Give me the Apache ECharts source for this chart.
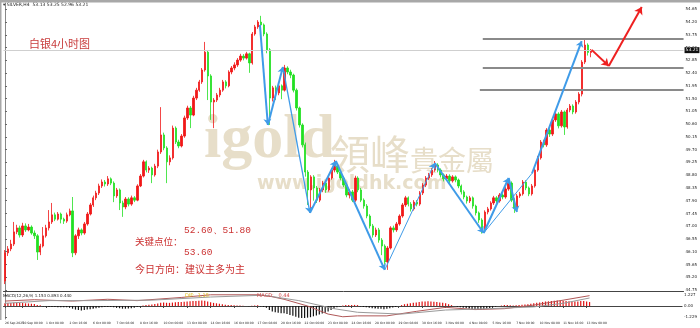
<!DOCTYPE html>
<html><head><meta charset="utf-8">
<script src="https://cdn.jsdelivr.net/npm/echarts@6/dist/echarts.min.js"></script>
<style>html,body{margin:0;padding:0;background:#fff}#c{width:700px;height:328px}</style>
</head><body><div id="c"></div>
<script>
// ---------- data ----------
const opens = [
45.07,46.06,46.20,46.37,46.80,46.94,46.69,47.01,46.87,46.97,
46.76,46.66,46.09,46.30,46.66,46.94,47.15,47.40,47.25,47.43,
47.25,47.18,47.40,47.54,46.06,46.66,46.87,46.76,47.08,47.43,
47.75,48.00,48.17,48.42,48.56,48.49,48.67,48.52,48.07,48.28,
47.82,47.68,47.96,47.78,48.00,47.92,48.42,48.77,49.27,48.98,
49.05,48.81,49.12,49.62,50.22,49.76,49.27,49.41,50.46,49.97,
49.83,50.18,50.82,51.17,50.92,51.52,51.80,52.09,52.51,53.14,
52.30,51.38,51.45,51.63,51.80,52.09,51.95,52.44,52.58,52.69,
52.86,53.00,52.93,53.08,52.76,53.78,54.03,54.20,54.10,53.78,
53.22,51.52,51.88,51.70,51.95,51.80,52.58,52.44,52.33,51.80,
51.17,50.57,49.87,48.91,48.28,48.74,48.35,47.92,48.28,48.52,
48.28,48.70,48.98,49.12,48.91,48.70,48.45,48.10,48.21,47.92,
48.70,48.28,47.92,47.71,47.36,47.01,46.69,46.87,46.51,46.30,
45.74,46.23,46.94,46.87,47.08,47.36,47.75,48.00,47.78,47.61,
47.85,47.78,48.17,48.45,48.70,48.81,48.98,49.16,48.98,48.81,
48.67,48.77,48.60,48.74,48.63,48.42,48.21,48.03,47.89,48.00,
47.71,47.47,47.22,46.87,47.50,47.61,47.82,48.00,47.89,48.10,
48.03,48.31,48.52,47.92,47.64,48.07,48.14,48.56,48.35,48.14,
48.42,48.98,49.41,49.97,49.87,50.39,50.25,50.75,50.96,50.54,
51.03,50.50,51.10,51.24,51.03,51.38,51.66,52.79,53.39,53.13];
const closes = [
46.06,46.20,46.37,46.80,46.94,46.69,47.01,46.87,46.97,46.76,
46.66,46.09,46.30,46.66,46.94,47.15,47.40,47.25,47.43,47.25,
47.18,47.40,47.54,46.06,46.66,46.87,46.76,47.08,47.43,47.75,
48.00,48.17,48.42,48.56,48.49,48.67,48.52,48.07,48.28,47.82,
47.68,47.96,47.78,48.00,47.92,48.42,48.77,49.27,48.98,49.05,
48.81,49.12,49.62,50.22,49.76,49.27,49.41,50.46,49.97,49.83,
50.18,50.82,51.17,50.92,51.52,51.80,52.09,52.51,53.14,52.30,
51.38,51.45,51.63,51.80,52.09,51.95,52.44,52.58,52.69,52.86,
53.00,52.93,53.08,52.76,53.78,54.03,54.20,54.10,53.78,53.22,
51.52,51.88,51.70,51.95,51.80,52.58,52.44,52.33,51.80,51.17,
50.57,49.87,48.91,48.28,48.74,48.35,47.92,48.28,48.52,48.28,
48.70,48.98,49.12,48.91,48.70,48.45,48.10,48.21,47.92,48.70,
48.28,47.92,47.71,47.36,47.01,46.69,46.87,46.51,46.30,45.74,
46.23,46.94,46.87,47.08,47.36,47.75,48.00,47.78,47.61,47.85,
47.78,48.17,48.45,48.70,48.81,48.98,49.16,48.98,48.81,48.67,
48.77,48.60,48.74,48.63,48.42,48.21,48.03,47.89,48.00,47.71,
47.47,47.22,46.87,47.50,47.61,47.82,48.00,47.89,48.10,48.03,
48.31,48.52,47.92,47.64,48.07,48.14,48.56,48.35,48.14,48.42,
48.98,49.41,49.97,49.87,50.39,50.25,50.75,50.96,50.54,51.03,
50.50,51.10,51.24,51.03,51.38,51.66,52.79,53.39,53.13,53.21];
const lows = [
44.96,45.95,46.12,46.30,46.72,46.60,46.62,46.80,46.82,46.70,
46.55,45.81,45.98,46.25,46.60,46.85,47.08,47.18,47.20,47.10,
47.08,47.12,47.35,45.91,45.98,46.55,46.68,46.70,47.02,47.38,
47.68,47.92,48.10,48.35,48.40,48.42,48.45,47.85,48.00,47.57,
47.33,47.60,47.70,47.72,47.85,47.88,48.38,48.72,48.90,48.88,
48.52,48.75,49.05,49.55,49.68,48.52,49.15,49.35,49.90,49.75,
49.78,50.12,50.75,50.46,50.88,51.45,51.74,52.02,52.45,51.45,
50.75,50.46,51.38,51.55,51.74,51.86,51.90,52.36,52.50,52.62,
52.80,52.85,52.88,52.41,52.70,53.72,53.96,53.95,53.70,53.10,
50.57,51.40,51.45,51.62,51.48,51.75,52.36,52.22,51.72,51.08,
50.48,49.78,48.75,47.75,47.47,47.90,47.82,47.85,48.20,48.18,
48.22,48.64,48.90,48.84,48.62,48.38,48.02,47.98,47.85,47.86,
48.20,47.85,47.62,47.28,46.92,46.60,46.62,46.42,45.98,45.65,
45.46,46.18,46.78,46.80,47.02,47.30,47.68,47.70,47.52,47.55,
47.70,47.72,48.10,48.38,48.63,48.74,48.92,48.90,48.72,48.58,
48.60,48.52,48.54,48.55,48.34,48.12,47.95,47.80,47.82,47.62,
47.38,47.12,46.74,46.82,47.42,47.55,47.75,47.80,47.83,47.95,
47.97,48.25,47.85,47.47,47.58,48.00,48.08,48.27,48.06,48.08,
48.36,48.92,49.35,49.78,49.80,50.15,50.18,50.68,50.45,50.48,
50.22,50.44,51.02,50.95,50.97,51.30,51.58,52.72,53.02,52.96];
const highs = [
46.16,46.30,46.52,47.15,47.05,47.02,47.12,47.10,47.08,47.03,
46.85,46.72,46.38,46.97,47.05,47.57,47.82,47.48,47.50,47.48,
47.30,47.48,47.62,48.03,46.72,46.95,46.92,47.15,47.50,47.82,
48.08,48.25,48.50,48.65,48.63,48.77,48.72,48.58,48.35,48.33,
47.90,48.03,48.02,48.08,48.06,48.48,48.84,49.34,49.32,49.12,
49.10,49.20,49.70,51.20,50.30,49.82,49.50,50.55,50.52,50.05,
50.25,50.90,51.25,51.24,51.60,51.88,52.16,52.58,53.50,53.20,
52.36,51.52,51.70,51.88,52.16,52.15,52.50,52.65,52.78,52.93,
53.08,53.07,53.15,53.12,53.85,54.10,54.27,54.42,54.15,53.84,
53.28,51.95,51.96,52.02,52.00,52.69,52.64,52.52,52.38,51.86,
51.22,50.63,49.95,48.98,48.80,48.80,48.42,48.35,48.60,48.58,
48.76,49.05,49.34,49.18,48.97,48.76,48.52,48.30,48.28,48.78,
48.76,48.35,47.98,47.78,47.42,47.08,46.95,46.94,46.58,46.36,
46.30,47.00,47.02,47.15,47.42,47.82,48.07,48.05,47.85,47.92,
47.92,48.24,48.52,48.77,48.88,49.05,49.30,49.22,49.04,48.86,
48.84,48.83,48.80,48.79,48.68,48.47,48.27,48.08,48.07,48.05,
47.76,47.52,47.28,47.56,47.68,47.88,48.07,48.06,48.17,48.16,
48.38,48.70,48.58,47.98,48.14,48.21,48.63,48.62,48.40,48.49,
49.05,49.48,50.04,50.05,50.46,50.46,50.82,51.03,51.02,51.10,
51.08,51.17,51.31,51.30,51.45,51.73,52.86,53.57,53.45,53.25];
const macdHist = [
0.30,0.32,0.33,0.35,0.35,0.33,0.33,0.30,0.28,0.25,
0.22,0.12,0.08,-0.05,-0.08,-0.10,-0.12,-0.12,-0.14,-0.15,
-0.15,-0.15,-0.14,-0.30,-0.40,-0.45,-0.50,-0.45,-0.40,-0.35,
-0.30,-0.25,-0.20,-0.15,-0.12,-0.10,-0.12,-0.15,-0.18,-0.25,
-0.30,-0.30,-0.28,-0.25,-0.20,-0.12,-0.05,0.05,0.10,0.15,
0.18,0.22,0.28,0.35,0.38,0.36,0.35,0.38,0.42,0.44,
0.45,0.46,0.50,0.52,0.55,0.56,0.58,0.60,0.58,0.50,
0.42,0.35,0.30,0.25,0.20,0.15,0.12,0.10,0.08,0.06,
0.05,0.03,0.00,-0.03,0.02,0.05,0.08,-0.05,-0.10,-0.20,
-0.45,-0.60,-0.70,-0.75,-0.80,-0.80,-0.90,-1.00,-1.10,-1.20,
-1.30,-1.35,-1.35,-1.30,-1.25,-1.15,-1.05,-0.95,-0.85,-0.75,
-0.60,-0.45,-0.30,-0.15,-0.05,0.05,0.10,0.12,0.10,0.12,
0.10,-0.05,-0.10,-0.15,-0.20,-0.25,-0.28,-0.30,-0.32,-0.35,
-0.32,-0.25,-0.18,-0.10,0.00,0.10,0.20,0.25,0.30,0.35,
0.40,0.45,0.50,0.50,0.52,0.50,0.48,0.45,0.40,0.35,
0.30,0.20,0.10,0.00,-0.08,-0.15,-0.20,-0.25,-0.30,-0.35,
-0.40,-0.45,-0.42,-0.35,-0.30,-0.22,-0.15,-0.08,0.00,0.05,
0.10,0.12,0.08,0.05,0.08,0.12,0.15,0.18,0.20,0.25,
0.30,0.35,0.40,0.45,0.50,0.52,0.55,0.58,0.60,0.60,
0.58,0.55,0.52,0.50,0.50,0.50,0.55,0.55,0.50,0.44];
// MACD lines, read at their turning points: [bar, value]
const difPoints = [[0,0.55],[10,0.70],[23,0.55],[35,0.75],[45,0.60],[60,0.95],[70,1.25],[86,1.25],[90,1.10],[95,0.75],[103,0.00],[110,-0.90],[115,-1.20],[120,-1.10],[130,-1.10],[140,-0.60],[150,-0.15],[160,-0.40],[170,-0.30],[180,0.10],[190,0.65],[199,1.153]];
const deaPoints = [[0,0.30],[15,0.60],[30,0.60],[50,0.65],[70,1.00],[88,1.20],[100,0.60],[112,-0.30],[120,-0.70],[135,-0.90],[150,-0.45],[165,-0.30],[180,-0.10],[190,0.30],[199,0.893]];
const priceTicks = [44.75,45.20,45.65,46.10,46.55,47.00,47.45,47.90,48.35,48.80,49.25,49.70,50.15,50.60,51.05,51.50,51.95,52.40,52.85,53.30,53.75,54.20,54.65];
const macdTicks = [1.227,0,-1.229];
const timeLabels = ["26 Sep 2025","30 Sep 00:00","1 Oct 08:00","2 Oct 16:00","6 Oct 00:00","7 Oct 08:00","8 Oct 16:00","10 Oct 00:00","13 Oct 08:00","14 Oct 16:00","16 Oct 00:00","17 Oct 08:00","20 Oct 16:00","22 Oct 00:00","23 Oct 08:00","24 Oct 16:00","28 Oct 00:00","29 Oct 08:00","30 Oct 16:00","3 Nov 00:00","4 Nov 08:00","5 Nov 16:00","7 Nov 00:00","10 Nov 08:00","11 Nov 16:00","13 Nov 00:00"];
const timeLabelBars = [0,6,14,22,30,38,46,54,62,70,78,86,94,102,110,118,126,134,142,150,158,166,174,182,190,198];
const keyLevels = [53.60, 52.60, 51.80];
const keyLevelFromBar = [162.3, 162.3, 161.3];
// hand-drawn wave arrows: [bar position, price]
const wavePoints = [[86.6,54.10],[89.3,50.57],[94.4,52.62],[103.6,47.47],[112.4,49.30],[129.0,45.46],[146.0,49.23],[162.6,46.76],[171.1,48.70],[173.9,47.50],[179.0,48.86],[195.9,53.53]];
const forecastPoints = [[199.3,53.22],[205.1,52.65],[216.3,54.73]];
const symbolName = "SILVER,H4";

// ---------- layout / style ----------
const SLOTS = 231;
const cats = Array.from({length: SLOTS}, (_, i) => i);
const candle = opens.map((o, i) => [o, closes[i], lows[i], highs[i]]);
const labelMap = {};
timeLabelBars.forEach((b, k) => { labelMap[b] = timeLabels[k]; });
const last = closes.length - 1;
const blue = '#3f9be8';
// segments of the wave drawing: [from, to, width, arrow]
const waveSegs = [[0,1,2,1],[1,2,2,1],[2,3,1.3,1],[3,4,2,1],[4,5,2,1],[5,6,1,1],[6,7,2,1],[7,8,2,1],[8,9,2,1],[7,10,1,0],[10,11,2,1]];
const arrowData = [], plainData = [];
waveSegs.forEach(s => {
  const item = {coords: [wavePoints[s[0]], wavePoints[s[1]]], lineStyle: {width: s[2], color: blue}};
  (s[3] ? arrowData : plainData).push(item);
});
const redData = [];
for (let k = 0; k < forecastPoints.length - 1; k++) {
  redData.push({coords: [forecastPoints[k], forecastPoints[k + 1]]});
}
const levelData = keyLevels.map((v, k) => ({coords: [[keyLevelFromBar[k], v], [SLOTS - 0.5, v]]}));

const GL = 3.5, GW = 680.3;
const tinyFont = 'DejaVu Sans';
const chart = echarts.init(document.getElementById('c'), null, {renderer: 'canvas'});
const f2 = v => v.toFixed(2);
chart.setOption({
  animation: false,
  backgroundColor: '#ffffff',
  grid: [
    {left: GL, top: 3, width: GW, height: 288},
    {left: GL, top: 292, width: GW, height: 27}
  ],
  xAxis: [
    {type: 'category', gridIndex: 0, data: cats, boundaryGap: true,
     axisLine: {show: true, lineStyle: {color: '#444', width: 1}}, axisTick: {show: false}, axisLabel: {show: false}, splitLine: {show: false}},
    {type: 'value', gridIndex: 0, min: -0.5, max: SLOTS - 0.5, show: false},
    {type: 'category', gridIndex: 1, data: cats, boundaryGap: true,
     axisLine: {show: true, lineStyle: {color: '#444', width: 1}},
     axisTick: {show: true, length: 2, alignWithLabel: true, interval: (i) => labelMap[i] !== undefined, lineStyle: {color: '#444'}},
     axisLabel: {show: true, hideOverlap: false, interval: 0, formatter: (v) => labelMap[v] || '',
       fontSize: 3, fontFamily: tinyFont, color: '#222', align: 'left', margin: 2.5}},
    {type: 'value', gridIndex: 1, min: -0.5, max: SLOTS - 0.5, show: false}
  ],
  yAxis: [
    {type: 'value', gridIndex: 0, position: 'right', min: 44.715, max: 54.873, scale: true,
     axisLine: {show: true, lineStyle: {color: '#888', width: 1}},
     axisTick: {show: true, length: 2, customValues: priceTicks, lineStyle: {color: '#666'}},
     axisLabel: {show: true, customValues: priceTicks, formatter: f2, fontSize: 4, fontFamily: tinyFont, color: '#222', margin: 2},
     splitLine: {show: false}},
    {type: 'value', gridIndex: 1, position: 'right', min: -1.45, max: 1.56,
     axisLine: {show: true, lineStyle: {color: '#888', width: 1}},
     axisTick: {show: true, length: 2, customValues: macdTicks, lineStyle: {color: '#666'}},
     axisLabel: {show: true, customValues: macdTicks, formatter: v => v === 0 ? '0.00' : v.toFixed(3), fontSize: 4, fontFamily: tinyFont, color: '#222', margin: 2},
     splitLine: {show: false}}
  ],
  series: [
    {type: 'candlestick', xAxisIndex: 0, yAxisIndex: 0, data: candle, barWidth: 1.9, z: 3,
     itemStyle: {color: '#f01818', color0: '#22e022', borderColor: '#f01818', borderColor0: '#22e022', borderWidth: 0.8},
     markLine: {silent: true, symbol: 'none', animation: false,
       data: [{yAxis: closes[last]}],
       lineStyle: {color: '#cfcfcf', width: 1, type: 'solid'},
       label: {show: true, position: 'end', formatter: f2(closes[last]), backgroundColor: '#111', color: '#fff', fontSize: 4.5, fontFamily: tinyFont, padding: [1, 1, 0, 1], distance: 1}}},
    {type: 'lines', coordinateSystem: 'cartesian2d', xAxisIndex: 1, yAxisIndex: 0, z: 4,
     data: levelData, lineStyle: {color: '#8a8a8a', width: 2, opacity: 1}, symbol: 'none'},
    {type: 'lines', coordinateSystem: 'cartesian2d', xAxisIndex: 1, yAxisIndex: 0, z: 5,
     data: arrowData, lineStyle: {color: blue, opacity: 1}, symbol: ['none', 'arrow'], symbolSize: 6},
    {type: 'lines', coordinateSystem: 'cartesian2d', xAxisIndex: 1, yAxisIndex: 0, z: 5,
     data: plainData, lineStyle: {color: blue, opacity: 1}, symbol: 'none'},
    {type: 'lines', coordinateSystem: 'cartesian2d', xAxisIndex: 1, yAxisIndex: 0, z: 5,
     data: redData, lineStyle: {color: '#ee2020', width: 2, opacity: 1}, symbol: ['none', 'arrow'], symbolSize: 7},
    {type: 'bar', xAxisIndex: 2, yAxisIndex: 1, data: macdHist, barWidth: 1.2,
     itemStyle: {color: (p) => p.value >= 0 ? '#e01010' : '#111111'}},
    {type: 'line', xAxisIndex: 3, yAxisIndex: 1, data: difPoints, symbol: 'none', lineStyle: {color: '#b05858', width: 1}},
    {type: 'line', xAxisIndex: 3, yAxisIndex: 1, data: deaPoints, symbol: 'none', lineStyle: {color: '#9a9a9a', width: 1}}
  ],
  graphic: [
    {type: 'rect', shape: {x: 0, y: 0, width: 700, height: 2.5}, style: {fill: '#a8a8a8'}, z: 50},
    {type: 'rect', shape: {x: 0, y: 0, width: 1.5, height: 320}, style: {fill: '#a8a8a8'}, z: 50},
    {type: 'text', x: 204, y: 172, z: 0, style: {text: 'igold', font: 'bold 62px "Liberation Serif"', fill: '#e7dec9', verticalAlign: 'bottom'}},
    {type: 'text', x: 330, y: 154, z: 0, style: {text: '領峰', font: '40px "Noto Sans CJK TC"', fill: '#e7dec9', verticalAlign: 'middle'}},
    {type: 'text', x: 410, y: 160, z: 0, style: {text: '貴金屬', font: '28px "Noto Sans CJK TC"', fill: '#e7dec9', verticalAlign: 'middle'}},
    {type: 'text', x: 257, y: 184, z: 0, style: {text: 'www.igoldhk.com', font: 'bold 19px "DejaVu Sans"', fill: '#e7dec9', verticalAlign: 'middle'}},
    {type: 'text', x: 3, y: 4.5, z: 60, style: {text: '▾ ' + symbolName + '  ' + f2(opens[last]) + ' ' + f2(highs[last]) + ' ' + f2(lows[last]) + ' ' + f2(closes[last]), font: '4.5px "DejaVu Sans"', fill: '#222', verticalAlign: 'middle'}},
    {type: 'text', x: 29, y: 44, z: 60, style: {text: '白银4小时图', font: '11px "Noto Sans CJK SC"', fill: '#c83c3c', verticalAlign: 'middle'}},
    {type: 'text', x: 184, y: 230, z: 60, style: {text: '52.60、51.80', font: '9.5px "Liberation Mono"', fill: '#cc3333', verticalAlign: 'middle'}},
    {type: 'text', x: 135, y: 241, z: 60, style: {text: '关键点位：', font: '9.5px "Noto Sans CJK SC"', fill: '#cc3333', verticalAlign: 'middle'}},
    {type: 'text', x: 184, y: 252, z: 60, style: {text: '53.60', font: '9.5px "Liberation Mono"', fill: '#cc3333', verticalAlign: 'middle'}},
    {type: 'text', x: 135, y: 269, z: 60, style: {text: '今日方向：建议主多为主', font: '10px "Noto Sans CJK SC"', fill: '#cc3333', verticalAlign: 'middle'}},
    {type: 'text', x: 3, y: 295.5, z: 60, style: {text: 'MACD(12,26,9) ' + difPoints[difPoints.length-1][1].toFixed(3) + ' ' + deaPoints[deaPoints.length-1][1].toFixed(3) + ' ' + macdHist[last].toFixed(3), font: '4px "DejaVu Sans"', fill: '#222', verticalAlign: 'middle'}},
    {type: 'text', x: 185, y: 295.5, z: 60, style: {text: 'DIF:  ' + difPoints[difPoints.length-1][1].toFixed(2), font: '5px "DejaVu Sans"', fill: '#e0c020', verticalAlign: 'middle'}},
    {type: 'text', x: 257, y: 295.5, z: 60, style: {text: 'MACD:   ' + macdHist[last].toFixed(2), font: '5px "DejaVu Sans"', fill: '#d04040', verticalAlign: 'middle'}}
  ]
});
</script></body></html>
